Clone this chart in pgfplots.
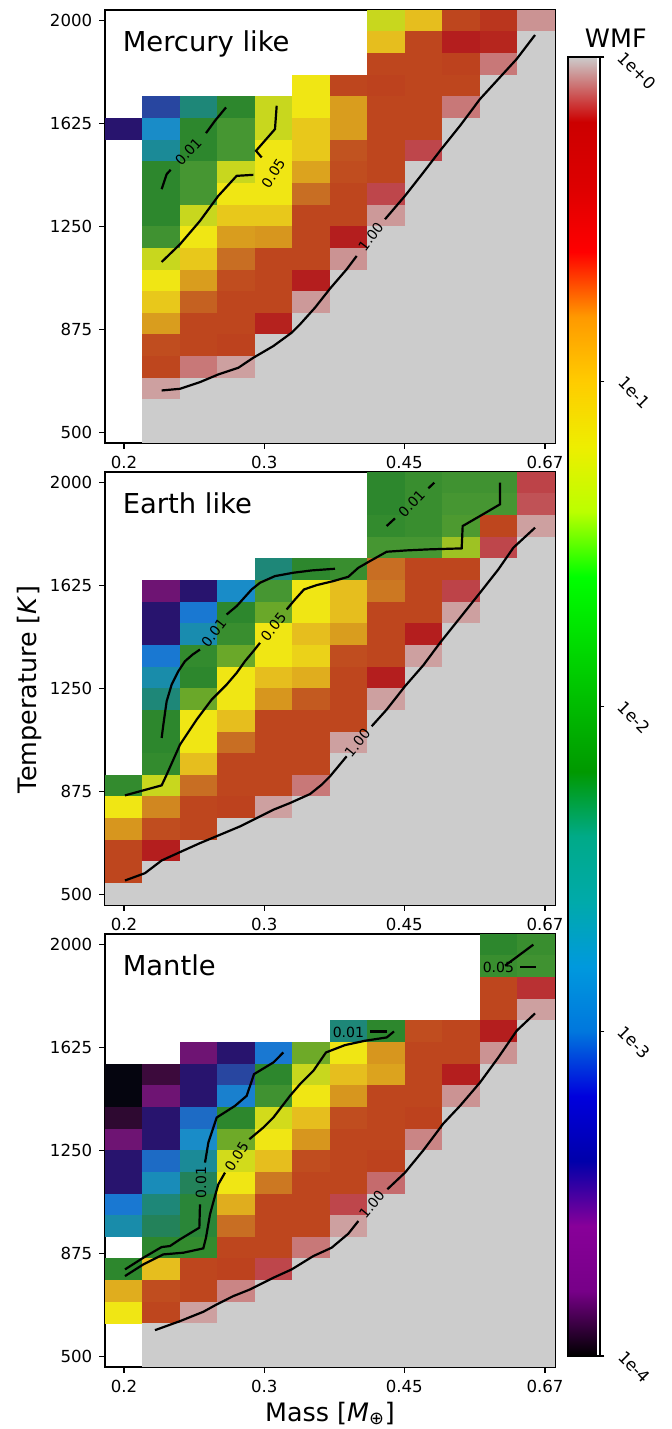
\documentclass[border=0pt]{standalone}
\usepackage{fontspec}
\setmainfont{DejaVu Sans}
\usepackage{pgfplots}
\usepackage{pgfplotstable}
\pgfplotsset{compat=1.18}

% log10(WMF) per grid cell, 9 = no run; rows from 2000 K down to 500 K
\pgfplotstableread{
T      c0    c1    c2    c3    c4    c5    c6    c7    c8    c9    c10   c11
2000.0 9     9     9     9     9     9     9     -1.4  -1.0  -0.68 -0.6  -0.08
1921.1 9     9     9     9     9     9     9     -1.0  -0.68 -0.48 -0.52 0
1842.1 9     9     9     9     9     9     9     -0.68 -0.68 -0.66 -0.12 0
1763.2 9     9     9     9     9     -1.2  -0.68 -0.66 -0.68 -0.68 0     0
1684.2 9     -3.2  -2.6  -2.2  -1.4  -1.2  -0.9  -0.68 -0.68 -0.12 0     0
1605.3 -3.4  -2.88 -2.2  -2.0  -1.4  -1.05 -0.9  -0.68 -0.68 0     0     0
1526.3 9     -2.7  -2.2  -2.0  -1.2  -1.05 -0.72 -0.68 -0.2  0     0     0
1447.4 9     -2.2  -2.0  -1.4  -1.2  -0.92 -0.7  -0.68 0     0     0     0
1368.4 9     -2.2  -2.0  -1.2  -1.2  -0.8  -0.68 -0.2  0     0     0     0
1289.5 9     -2.2  -1.4  -1.05 -1.05 -0.68 -0.68 -0.07 0     0     0     0
1210.5 9     -2.05 -1.2  -0.9  -0.88 -0.68 -0.48 0     0     0     0     0
1131.6 9     -1.4  -1.05 -0.8  -0.68 -0.68 -0.08 0     0     0     0     0
1052.6 9     -1.2  -0.9  -0.7  -0.68 -0.48 0     0     0     0     0     0
973.7  9     -1.05 -0.76 -0.68 -0.68 -0.07 0     0     0     0     0     0
894.7  9     -0.9  -0.68 -0.68 -0.5  0     0     0     0     0     0     0
815.8  9     -0.7  -0.68 -0.66 0     0     0     0     0     0     0     0
736.8  9     -0.68 -0.12 -0.06 0     0     0     0     0     0     0     0
657.9  9     -0.06 0     0     0     0     0     0     0     0     0     0
578.9  9     0     0     0     0     0     0     0     0     0     0     0
500.0  9     0     0     0     0     0     0     0     0     0     0     0
}\merc

\pgfplotstableread{
T      c0    c1    c2    c3    c4    c5    c6    c7    c8    c9    c10   c11
2000.0 9     9     9     9     9     9     9     -2.2  -2.1  -2.05 -2.05 -0.22
1921.1 9     9     9     9     9     9     9     -2.2  -2.1  -2.0  -2.0  -0.18
1842.1 9     9     9     9     9     9     9     -2.15 -2.1  -1.95 -0.68 -0.06
1763.2 9     9     9     9     9     9     9     -2.0  -2.0  -1.55 -0.2  0
1684.2 9     9     9     9     -2.6  -2.2  -2.1  -0.8  -0.68 -0.68 0     0
1605.3 9     -3.6  -3.4  -2.88 -2.0  -1.2  -1.0  -0.82 -0.68 -0.22 0     0
1526.3 9     -3.4  -3.0  -2.2  -1.75 -1.2  -1.0  -0.68 -0.68 -0.06 0     0
1447.4 9     -3.4  -2.78 -2.1  -1.2  -1.0  -0.9  -0.68 -0.48 0     0     0
1368.4 9     -3.0  -2.15 -1.75 -1.2  -1.1  -0.7  -0.68 -0.06 0     0     0
1289.5 9     -2.76 -2.2  -1.2  -1.0  -0.95 -0.68 -0.48 0     0     0     0
1210.5 9     -2.6  -1.75 -1.2  -0.88 -0.74 -0.68 -0.06 0     0     0     0
1131.6 9     -2.2  -1.2  -1.0  -0.68 -0.68 -0.68 0     0     0     0     0
1052.6 9     -2.2  -1.2  -0.8  -0.68 -0.68 -0.06 0     0     0     0     0
973.7  9     -2.15 -1.0  -0.68 -0.68 -0.68 0     0     0     0     0     0
894.7  -2.15 -1.4  -0.8  -0.68 -0.68 -0.12 0     0     0     0     0     0
815.8  -1.2  -0.85 -0.68 -0.66 -0.06 0     0     0     0     0     0     0
736.8  -0.88 -0.7  -0.68 0     0     0     0     0     0     0     0     0
657.9  -0.68 -0.48 0     0     0     0     0     0     0     0     0     0
578.9  -0.68 0     0     0     0     0     0     0     0     0     0     0
500.0  0     0     0     0     0     0     0     0     0     0     0     0
}\earth

\pgfplotstableread{
T      c0    c1    c2    c3    c4    c5    c6    c7    c8    c9    c10   c11
2000.0 9     9     9     9     9     9     9     9     9     9     -2.2  -2.1
1921.1 9     9     9     9     9     9     9     9     9     9     -2.1  -2.05
1842.1 9     9     9     9     9     9     9     9     9     9     -0.68 -0.35
1763.2 9     9     9     9     9     9     9     9     9     9     -0.68 -0.06
1684.2 9     9     9     9     9     9     -2.6  -2.2  -0.7  -0.68 -0.48 0
1605.3 9     9     -3.6  -3.4  -3.0  -1.72 -1.2  -0.88 -0.68 -0.68 -0.08 0
1526.3 -4.0  -3.8  -3.4  -3.2  -2.2  -1.4  -1.0  -0.92 -0.68 -0.48 0     0
1447.4 -4.0  -3.6  -3.4  -2.95 -2.05 -1.2  -0.88 -0.68 -0.68 -0.08 0     0
1368.4 -3.85 -3.4  -3.05 -2.2  -1.35 -1.0  -0.7  -0.68 -0.66 0     0     0
1289.5 -3.6  -3.4  -2.88 -1.72 -1.2  -0.88 -0.68 -0.68 -0.1  0     0     0
1210.5 -3.4  -3.05 -2.7  -1.35 -1.0  -0.7  -0.68 -0.66 0     0     0     0
1131.6 -3.4  -2.82 -2.4  -1.2  -0.82 -0.68 -0.68 -0.14 0     0     0     0
1052.6 -3.0  -2.6  -2.25 -0.95 -0.68 -0.68 -0.2  0     0     0     0     0
973.7  -2.76 -2.4  -2.25 -0.8  -0.68 -0.68 -0.06 0     0     0     0     0
894.7  9     -2.2  -2.15 -0.68 -0.68 -0.12 0     0     0     0     0     0
815.8  -2.2  -1.0  -0.68 -0.66 -0.2  0     0     0     0     0     0     0
736.8  -0.95 -0.7  -0.68 -0.1  0     0     0     0     0     0     0     0
657.9  -1.2  -0.68 -0.06 0     0     0     0     0     0     0     0     0
578.9  9     0     0     0     0     0     0     0     0     0     0     0
500.0  9     0     0     0     0     0     0     0     0     0     0     0
}\mantle

% one grid cell: 12 columns over 225pt, 20 rows over 216.5pt
\pgfdeclareplotmark{cell}{%
  \pgfpathrectangle{\pgfpoint{-9.5pt}{-5.55pt}}{\pgfpoint{19pt}{11.1pt}}%
  \pgfusepath{fill}}

\tikzset{
  lbl/.style={font=\fontsize{7}{8}\selectfont, inner sep=0pt, sloped},
  ptitle/.style={anchor=base west, xshift=8.7pt, yshift=-20.6pt, inner sep=0pt,
    font=\fontsize{13.7}{16}\selectfont},
}

\pgfplotsset{
  colormap={nipy}{
    rgb=(0,0,0) rgb=(0.4667,0,0.5333) rgb=(0.5333,0,0.6) rgb=(0,0,0.6667)
    rgb=(0,0,0.8667) rgb=(0,0.4667,0.8667) rgb=(0,0.6,0.8667) rgb=(0,0.6667,0.6667)
    rgb=(0,0.6667,0.5333) rgb=(0,0.6,0) rgb=(0,0.7333,0) rgb=(0,0.8667,0)
    rgb=(0,1,0) rgb=(0.7333,1,0) rgb=(0.9333,0.9333,0) rgb=(1,0.8,0)
    rgb=(1,0.6,0) rgb=(1,0,0) rgb=(0.8667,0,0) rgb=(0.8,0,0) rgb=(0.8,0.8,0.8)},
  colormap={cellmap}{
    rgb255(0pt)=(5,5,15) rgb255(10pt)=(60,10,60) rgb255(20pt)=(110,20,115)
    rgb255(30pt)=(40,20,110) rgb255(40pt)=(40,70,160) rgb255(50pt)=(25,120,210)
    rgb255(56pt)=(25,140,200) rgb255(62pt)=(25,140,170) rgb255(70pt)=(30,135,120)
    rgb255(80pt)=(35,130,90) rgb255(90pt)=(45,135,45) rgb255(100pt)=(70,150,50)
    rgb255(114pt)=(110,170,40) rgb255(130pt)=(200,215,30) rgb255(140pt)=(240,230,20)
    rgb255(150pt)=(230,190,30) rgb255(156pt)=(215,150,30) rgb255(160pt)=(200,110,35)
    rgb255(166pt)=(190,70,30) rgb255(176pt)=(180,30,30) rgb255(190pt)=(190,70,75)
    rgb255(194pt)=(200,120,120) rgb255(197pt)=(205,160,160) rgb255(200pt)=(204,204,204)},
  frame/.style={
    width=225pt, height=216.5pt, scale only axis, anchor=north west,
    xmin=0, xmax=12, ymin=460.526, ymax=2039.474,
  },
  panel/.style={frame,
    xtick={0.507,4.249,7.982,11.733}, xticklabels={0.2,0.3,0.45,0.67},
    ytick={500,875,1250,1625,2000}, yticklabels={500,875,1250,1625,2000},
    tick pos=left, tick align=outside, major tick length=2.85pt,
    tick style={black, line width=0.6pt},
    axis line style={line width=0.6pt},
    tick label style={font=\fontsize{8.3}{10}\selectfont},
    /pgf/number format/assume math mode=true,
    axis on top,
    colormap name=cellmap, point meta min=-4, point meta max=0,
  },
  % same box, drawn after the cells: contour lines, labels, panel name
  overlay/.style={frame, axis lines=none, xtick=\empty, ytick=\empty},
  cells/.style={scatter, only marks, mark=cell,
    restrict y to domain=400:2100},
  wmf/.style={black, line width=1.1pt, mark=none},
}

\newcommand{\cellgrid}[1]{%
  \pgfplotsinvokeforeach{0,...,11}{%
    \addplot[cells, point meta=\thisrow{c##1}]
      table[x expr=##1+0.5, y expr={\thisrow{T}+10000*(\thisrow{c##1}>5)}] {#1};
  }}

\begin{document}
\begin{tikzpicture}
\useasboundingbox (-52.5pt,5pt) rectangle (283.5pt,-709.5pt);

% ---- Mercury like
\begin{axis}[panel, at={(0pt,0pt)}]
\cellgrid{\merc}
\end{axis}
\begin{axis}[overlay, at={(0pt,0pt)},
  colormap name=nipy, point meta min=-4, point meta max=0,
  colorbar,
  colorbar style={
    at={(223pt,-23.5pt)}, anchor=north west,
    width=16pt, height=649.5pt, scale only axis,
    ytick={-4,-3,-2,-1,0}, yticklabels={1e-4,1e-3,1e-2,1e-1,1e+0},
    ytick pos=right, yticklabel pos=right,
    tick align=outside, major tick length=2.15pt,
    tick style={black, line width=0.6pt},
    axis line style={line width=0.6pt},
    yticklabel style={rotate=-45, anchor=north west, inner sep=0pt,
      xshift=5pt, yshift=10pt, font=\fontsize{8.3}{10}\selectfont},
  }]
\addplot[wmf] coordinates {(1.511,1386.0) (1.644,1440.8) (1.751,1456.7)};
\addplot[wmf] coordinates {(2.693,1590.5) (2.933,1635.6) (3.227,1684.2)};
\addplot[draw=none] coordinates {(1.80,1462) (2.64,1585)} node[lbl, pos=0.5] {0.01};
\addplot[wmf] coordinates {(1.511,1120.7) (2.0,1185.2) (2.533,1270.4) (3.022,1361.7)
  (3.511,1434.7) (3.956,1438.4)};
\addplot[wmf] coordinates {(4.178,1501.7) (4.027,1526.0) (4.533,1605.1) (4.578,1690.3)};
\addplot[draw=none] coordinates {(4.311,1406.7) (4.667,1482.2)} node[lbl, pos=0.5] {0.05};
\addplot[wmf] coordinates {(1.511,652.1) (2.0,658.2) (2.533,682.5) (3.022,710.6)
  (3.556,734.9) (3.956,771.4) (4.489,814.0) (4.978,862.7) (5.2,893.1) (5.6,954.0)
  (6.0,1023.4) (6.444,1093.9) (6.711,1142.6)};
\addplot[wmf] coordinates {(7.467,1276.5) (8.0,1361.7) (8.489,1446.9) (8.933,1526.0)
  (9.467,1617.3) (10.0,1714.7) (10.489,1787.7) (10.978,1860.7) (11.467,1948.3)};
\addplot[draw=none] coordinates {(6.844,1169.4) (7.333,1257.0)} node[lbl, pos=0.5] {1.00};
\node[ptitle] at (rel axis cs:0,1) {Mercury like};
\end{axis}

% ---- Earth like
\begin{axis}[panel, at={(0pt,-231pt)}]
\cellgrid{\earth}
\end{axis}
\begin{axis}[overlay, at={(0pt,-231pt)}]
\addplot[wmf] coordinates {(1.511,1069.6) (1.556,1118.3) (1.644,1203.5) (1.778,1264.4)
  (1.956,1313.0) (2.133,1349.5) (2.338,1373.9) (2.533,1392.1)};
\addplot[wmf] coordinates {(3.244,1519.9) (3.511,1550.4) (3.911,1611.2) (4.133,1635.6)
  (4.533,1659.9) (5.022,1672.1) (5.511,1680.6) (6.133,1686.7)};
\addplot[draw=none] coordinates {(2.68,1413) (3.12,1491)} node[lbl, pos=0.5] {0.01};
\addplot[wmf] coordinates {(7.511,1842.5) (7.733,1870.5)};
\addplot[wmf] coordinates {(8.622,1980.0) (8.782,2000.7)};
\addplot[draw=none] coordinates {(7.9,1885) (8.45,1965)} node[lbl, pos=0.5] {0.01};
\addplot[wmf] coordinates {(0.533,860.3) (1.511,896.8) (1.644,935.7) (2.0,1045.3)
  (2.444,1136.5) (2.844,1209.6) (3.244,1264.4) (3.511,1306.9) (3.733,1349.5)
  (3.956,1386.0) (4.133,1416.5)};
\addplot[wmf] coordinates {(4.844,1538.2) (5.067,1574.7) (5.307,1611.2) (5.644,1627.0)
  (6.089,1641.6) (6.489,1657.5) (6.756,1690.3) (7.067,1714.7) (7.511,1748.7)
  (8.044,1753.6) (8.622,1757.3) (9.511,1760.9) (9.538,1842.5) (10.0,1879.0)
  (10.533,1921.6) (10.533,2000.7)};
\addplot[draw=none] coordinates {(4.27,1437) (4.71,1512)} node[lbl, pos=0.5] {0.05};
\addplot[wmf] coordinates {(0.533,549.9) (1.067,576.7) (1.511,622.9) (2.0,653.4)
  (2.533,686.2) (3.067,716.6) (3.6,747.1) (4.044,777.5) (4.489,807.9) (4.933,832.3)
  (5.467,865.1) (5.778,899.2) (6.0,929.6) (6.444,1002.7)};
\addplot[wmf] coordinates {(7.111,1112.2) (7.511,1173.1) (8.0,1258.3) (8.489,1334.9)
  (8.933,1416.5) (9.467,1507.8) (10.0,1599.1) (10.489,1684.2) (10.889,1763.3)
  (11.467,1836.4)};
\addplot[draw=none] coordinates {(6.53,1018) (6.93,1085)} node[lbl, pos=0.5] {1.00};
\node[ptitle] at (rel axis cs:0,1) {Earth like};
\end{axis}

% ---- Mantle
\begin{axis}[panel, at={(0pt,-462pt)}]
\cellgrid{\mantle}
\end{axis}
\begin{axis}[overlay, at={(0pt,-462pt)}]
\addplot[wmf] coordinates {(0.533,816.4) (1.022,859.0) (1.511,898.0) (1.733,901.6)
  (2.0,926.0) (2.516,968.6) (2.533,1053.8)};
\addplot[wmf] coordinates {(2.667,1205.9) (2.756,1278.9) (2.978,1370.2) (3.467,1412.8)
  (3.778,1449.3) (3.973,1528.4) (4.489,1571.0) (4.756,1607.6)};
\addplot[draw=none] coordinates {(2.56,1080.6) (2.56,1185.2)} node[lbl, pos=0.5] {0.01};
\addplot[wmf] coordinates {(7.067,1684.2) (7.511,1684.2)};
\addplot[draw=none] coordinates {(6.2,1680.3) (6.78,1680.3)} node[lbl, pos=0.5] {0.01};
\addplot[wmf] coordinates {(0.533,792.1) (1.022,834.7) (1.556,871.2) (2.089,877.3)
  (2.622,893.1) (2.693,932.1) (2.8,1017.3) (2.933,1084.2) (3.022,1126.8) (3.2,1169.4)};
\addplot[wmf] coordinates {(3.849,1291.1) (4.222,1333.7) (4.489,1370.2) (4.933,1449.3)
  (5.2,1491.9) (5.556,1540.6) (5.893,1607.6) (6.4,1634.4) (6.933,1650.2)
  (7.511,1662.3) (7.707,1684.2)};
\addplot[draw=none] coordinates {(3.33,1190) (3.69,1266)} node[lbl, pos=0.5] {0.05};
\addplot[wmf] coordinates {(10.667,1924.0) (11.422,2000.7)};
\addplot[wmf] coordinates {(11.067,1920.4) (11.493,1920.4)};
\addplot[draw=none] coordinates {(10.2,1918) (10.78,1918)} node[lbl, pos=0.5] {0.05};
\addplot[wmf] coordinates {(1.333,594.9) (2.0,627.8) (2.622,661.9) (2.978,688.7)
  (3.422,719.1) (3.867,743.4) (4.489,786.0) (4.978,816.4) (5.556,865.1) (6.044,895.6)
  (6.489,946.7) (6.756,992.9)};
\addplot[wmf] coordinates {(7.529,1108.6) (8.0,1169.4) (8.489,1250.9) (9.022,1348.3)
  (9.467,1412.8) (10.0,1498.0) (10.489,1589.3) (10.978,1686.7) (11.467,1750.0)};
\addplot[draw=none] coordinates {(6.9,1018) (7.33,1090)} node[lbl, pos=0.5] {1.00};
\node[ptitle] at (rel axis cs:0,1) {Mantle};
\end{axis}

\node[anchor=base, inner sep=0pt, font=\fontsize{12.7}{15}\selectfont] at (255.4pt,-18.85pt) {WMF};
\node[rotate=90, anchor=base, inner sep=0pt, font=\fontsize{12.7}{15}\selectfont]
  at (-34.15pt,-339.75pt) {Temperature [\textit{K}]};
\node[anchor=base, inner sep=0pt, font=\fontsize{12.7}{15}\selectfont]
  at (112.5pt,-705.5pt) {Mass [\textit{M}\textsubscript{⊕}]};
\end{tikzpicture}
\end{document}
